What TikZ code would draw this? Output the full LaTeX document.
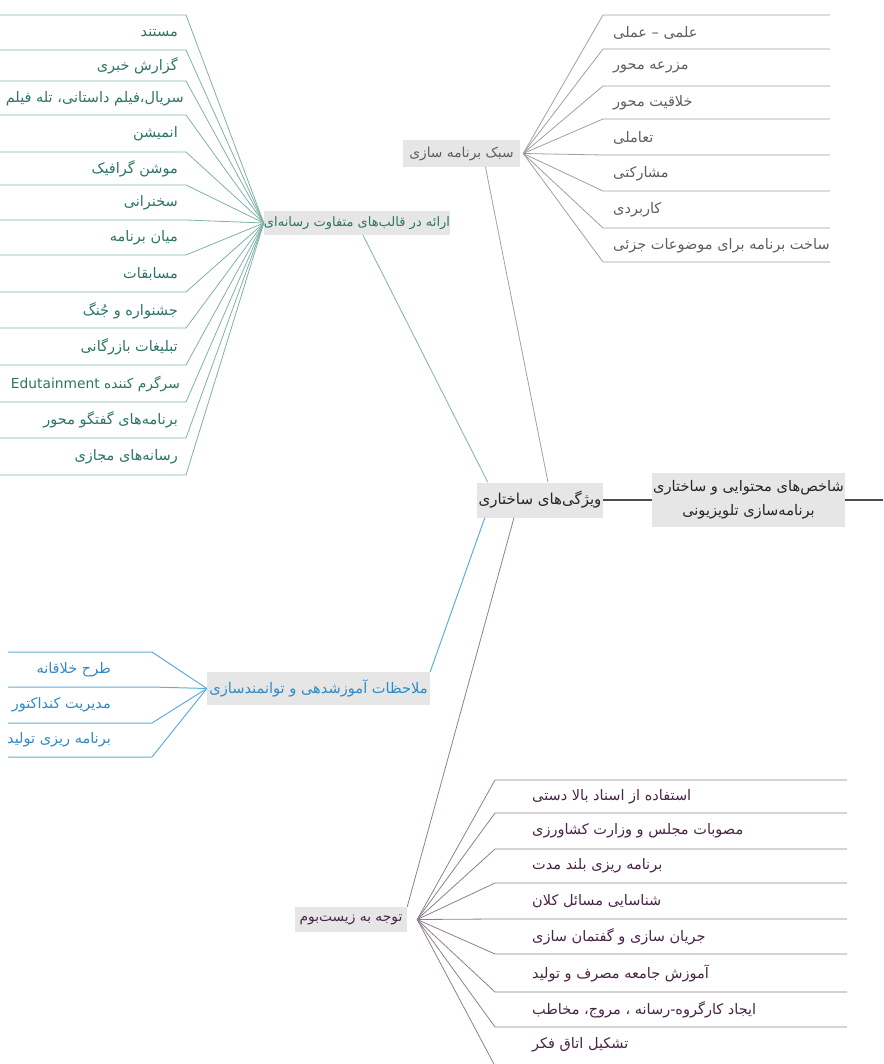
\documentclass[tikz,border=0pt]{standalone}
\usepackage{fontspec}
\newfontfamily\fa[Script=Arabic]{DejaVu Sans}
\TeXXeTstate=1
\usepackage{tikz}
\definecolor{boxgray}{HTML}{E6E6E6}
\definecolor{stytext}{HTML}{5F5F5F}
\definecolor{stylinkc}{HTML}{A0A0A0}
\definecolor{medtext}{HTML}{2B7566}
\definecolor{medlinkc}{HTML}{7FB2A6}
\definecolor{edutext}{HTML}{2E8BC6}
\definecolor{edulinkc}{HTML}{5FAEDC}
\definecolor{ecotext}{HTML}{4A2447}
\definecolor{ecolinkc}{HTML}{8F7F8E}

\begin{document}
\begin{tikzpicture}[
		x=1pt, y=-1pt,
		topic/.style={fill=boxgray, inner sep=0pt, font=\fa\fontsize{13.8}{16}\selectfont},
		leaf/.style={inner sep=0pt, font=\fa\fontsize{14.5}{17}\selectfont},
		mainlink/.style={draw=black!70, line width=1.1pt},
		stylink/.style={draw=stylinkc, line width=0.8pt},
		medlink/.style={draw=medlinkc, line width=0.8pt},
		edulink/.style={draw=edulinkc, line width=1pt},
		ecolink/.style={draw=ecolinkc, line width=0.8pt}
	]
	\useasboundingbox (0,0) rectangle (883,1064);
	
	\node[topic, minimum width=193pt, minimum height=54pt, align=center, text=black!85, font=\fa\fontsize{14.6}{24}\selectfont] (main) at (748.5,500)
		{\beginR شاخص‌های محتوایی و ساختاری\endR\\\beginR برنامه‌سازی تلویزیونی\endR};
	\node[topic, minimum width=126pt, minimum height=35pt, text=black!85, font=\fa\fontsize{15}{18}\selectfont] (struct) at (540,500) {\beginR ویژگی‌های ساختاری\endR};
	\coordinate (out) at (883,500);
	\draw[mainlink] (main.east) -- (out);
	\draw[mainlink] (main.west) -- (struct.east);
	
	\node[topic, minimum width=117pt, minimum height=27pt, text=stytext] (prog) at (461.5,153.5) {\beginR سبک برنامه سازی\endR};
	\node[topic, minimum width=186pt, minimum height=24pt, text=medtext, font=\fa\fontsize{13}{16}\selectfont] (media) at (357,223) {\beginR ارائه در قالب‌های متفاوت رسانه‌ای\endR};
	\node[topic, minimum width=223pt, minimum height=33pt, text=edutext, font=\fa\fontsize{14.6}{17}\selectfont] (edu) at (318.5,688.5) {\beginR ملاحظات آموزشدهی و توانمندسازی\endR};
	\node[topic, minimum width=112pt, minimum height=25pt, text=ecotext] (eco) at (351,919.5) {\beginR توجه به زیست‌بوم\endR};
	
	\draw[stylink] ([xshift=8pt]struct.north) -- ([xshift=24pt]prog.south);
	\draw[medlink] ([xshift=11pt]struct.north west) -- ([xshift=6pt]media.south);
	\draw[edulink] ([xshift=8pt]struct.south west) -- (edu.north east);
	\draw[ecolink] ([xshift=-26pt]struct.south) -- (eco.north east);
	
	\foreach \y [count=\i] in {15,49,86,119,155,191,228,262}
		\draw[stylink] ([xshift=3pt]prog.east) -- (603,\y) coordinate (sl\i) -- (830,\y);
	\node[leaf, anchor=west, text=stytext] (s1) at (613,33) {\beginR علمی – عملی\endR};
	\node[leaf, anchor=west, text=stytext] (s2) at (613,68) {\beginR مزرعه محور\endR};
	\node[leaf, anchor=west, text=stytext] (s3) at (613,103) {\beginR خلاقیت محور\endR};
	\node[leaf, anchor=west, text=stytext] (s4) at (613,138) {\beginR تعاملی\endR};
	\node[leaf, anchor=west, text=stytext] (s5) at (613,174) {\beginR مشارکتی\endR};
	\node[leaf, anchor=west, text=stytext] (s6) at (613,210) {\beginR کاربردی\endR};
	\node[leaf, anchor=west, text=stytext] (s7) at (613,246) {\beginR ساخت برنامه برای موضوعات جزئی\endR};
	
	\foreach \y [count=\i] in {15,50,81,115,152,185,220,255,292,328,365,402,438,475}
		\draw[medlink] (media.west) -- (186,\y) coordinate (ml\i) -- (0,\y);
	\node[leaf, anchor=east, text=medtext] (m1) at (178,33) {\beginR مستند\endR};
	\node[leaf, anchor=east, text=medtext] (m2) at (178,66) {\beginR گزارش خبری\endR};
	\node[leaf, anchor=east, text=medtext] (m3) at (184,99) {\beginR سریال،فیلم داستانی، تله فیلم\endR};
	\node[leaf, anchor=east, text=medtext] (m4) at (178,134) {\beginR انمیشن\endR};
	\node[leaf, anchor=east, text=medtext] (m5) at (178,169) {\beginR موشن گرافیک\endR};
	\node[leaf, anchor=east, text=medtext] (m6) at (178,203) {\beginR سخنرانی\endR};
	\node[leaf, anchor=east, text=medtext] (m7) at (178,238) {\beginR میان برنامه\endR};
	\node[leaf, anchor=east, text=medtext] (m8) at (178,274) {\beginR مسابقات\endR};
	\node[leaf, anchor=east, text=medtext] (m9) at (178,311) {\beginR جشنواره و جُنگ\endR};
	\node[leaf, anchor=east, text=medtext] (m10) at (178,347) {\beginR تبلیغات بازرگانی\endR};
	\node[leaf, anchor=east, text=medtext, font=\fa\fontsize{13.8}{17}\selectfont] (m11) at (180,384) {\beginR سرگرم کننده \beginL Edutainment\endL\endR};
	\node[leaf, anchor=east, text=medtext] (m12) at (178,420) {\beginR برنامه‌های گفتگو محور\endR};
	\node[leaf, anchor=east, text=medtext] (m13) at (178,457) {\beginR رسانه‌های مجازی\endR};
	
	\foreach \y [count=\i] in {652,687,723,757}
		\draw[edulink] (edu.west) -- (152,\y) coordinate (el\i) -- (8,\y);
	\node[leaf, anchor=east, text=edutext] (e1) at (111,670) {\beginR طرح خلاقانه\endR};
	\node[leaf, anchor=east, text=edutext] (e2) at (111,705) {\beginR مدیریت کنداکتور\endR};
	\node[leaf, anchor=east, text=edutext] (e3) at (111,740) {\beginR برنامه ریزی تولید\endR};
	
	\coordinate (ecofan) at ([xshift=10pt]eco.east);
	\foreach \y [count=\i] in {780,813,849,883,919,954,992,1027}
		\draw[ecolink] (ecofan) -- (495,\y) coordinate (zl\i) -- (847,\y);
	\coordinate (zl9) at (495,1066);
	\draw[ecolink] (ecofan) -- (zl9);
	\node[leaf, anchor=west, text=ecotext] (z1) at (532,797) {\beginR استفاده از اسناد بالا دستی\endR};
	\node[leaf, anchor=west, text=ecotext] (z2) at (532,831) {\beginR مصوبات مجلس و وزارت کشاورزی\endR};
	\node[leaf, anchor=west, text=ecotext] (z3) at (532,866) {\beginR برنامه ریزی بلند مدت\endR};
	\node[leaf, anchor=west, text=ecotext] (z4) at (532,901) {\beginR شناسایی مسائل کلان\endR};
	\node[leaf, anchor=west, text=ecotext] (z5) at (532,937) {\beginR جریان سازی و گفتمان سازی\endR};
	\node[leaf, anchor=west, text=ecotext] (z6) at (532,973) {\beginR آموزش جامعه مصرف و تولید\endR};
	\node[leaf, anchor=west, text=ecotext] (z7) at (532,1010) {\beginR ایجاد کارگروه-رسانه ، مروج، مخاطب\endR};
	\node[leaf, anchor=west, text=ecotext] (z8) at (532,1045) {\beginR تشکیل اتاق فکر\endR};
\end{tikzpicture}
\end{document}
